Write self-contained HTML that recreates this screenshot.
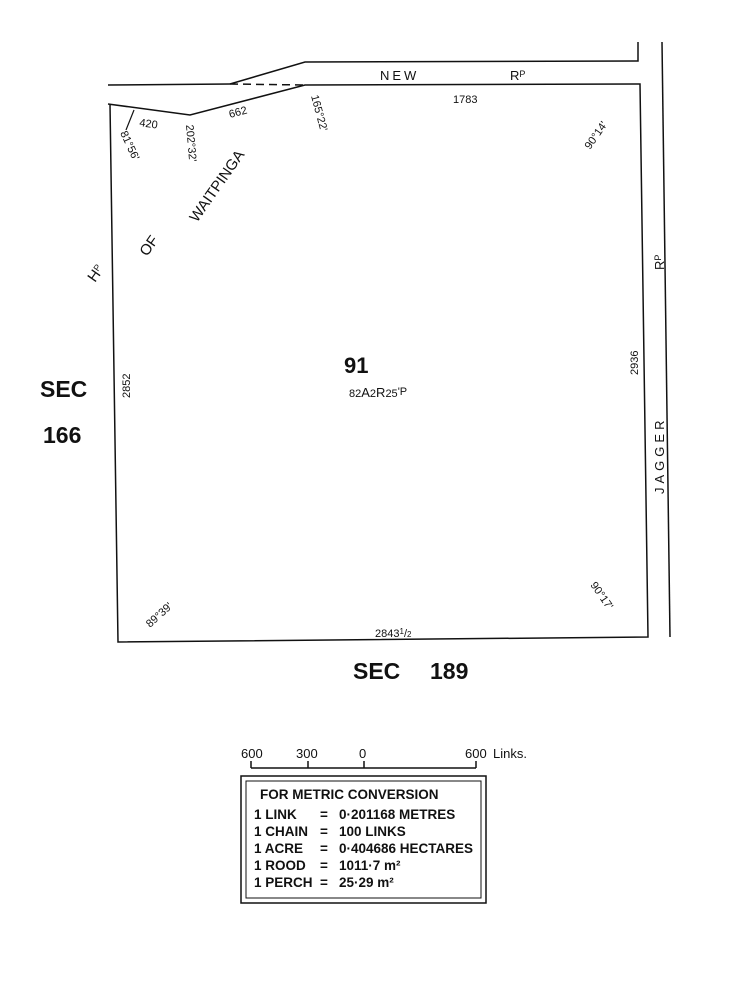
<!DOCTYPE html>
<html><head><meta charset="utf-8"><style>
html,body{margin:0;padding:0;background:#fff;}
svg{display:block}
text{font-family:"Liberation Sans",sans-serif;fill:#111}
.s{font-size:11px}
.b{font-weight:bold}
</style></head><body>
<svg width="750" height="1008" viewBox="0 0 750 1008" xmlns="http://www.w3.org/2000/svg">
<g stroke="#111" stroke-width="1.5" fill="none">
<polyline points="108,104 190,115 305,85 640,84 648,637 118,642 110,104"/>
<line x1="108" y1="85" x2="230" y2="84"/>
<line x1="230" y1="84" x2="305" y2="85" stroke-dasharray="8,5"/>
<polyline points="230,84 305,62 638,61 638,42"/>
<line x1="662" y1="42" x2="670" y2="637"/>
<line x1="134" y1="110" x2="126" y2="130" stroke-width="1.2"/>
</g>
<text x="380" y="80" font-size="13" letter-spacing="3">NEW</text>
<text x="510" y="80" font-size="13">R<tspan font-size="9" dy="-3">P</tspan></text>
<text x="453" y="103" class="s">1783</text>
<text x="139" y="126" class="s" transform="rotate(8 139 126)">420</text>
<text x="230" y="118" class="s" transform="rotate(-15 230 118)">662</text>
<g class="s">
<text transform="translate(120,133) rotate(65)">81°56'</text>
<text transform="translate(186,125) rotate(85)">202°32'</text>
<text transform="translate(311,96) rotate(75)">165°22'</text>
<text transform="translate(590,150) rotate(-55)">90°14'</text>
<text transform="translate(590,585) rotate(55)">90°17'</text>
<text transform="translate(150,628) rotate(-42)">89°39'</text>
<text transform="translate(130,398) rotate(-90)">2852</text>
<text transform="translate(638,375) rotate(-90)">2936</text>
<text x="375" y="637">2843<tspan font-size="8" dy="-3">1</tspan><tspan dy="3">/</tspan><tspan font-size="8">2</tspan></text>
</g>
<text transform="translate(664,494) rotate(-90)" font-size="13" letter-spacing="4">JAGGER</text>
<text transform="translate(664,270) rotate(-90)" font-size="13">R<tspan font-size="9" dy="-3">P</tspan></text>
<text transform="translate(95,283) rotate(-55)" font-size="15">H<tspan font-size="9" dy="-4">P</tspan></text>
<text transform="translate(147,257) rotate(-55)" font-size="15">OF</text>
<text transform="translate(197,223) rotate(-55)" font-size="15">WAITPINGA</text>
<text x="344" y="373" font-size="22" class="b">91</text>
<text x="349" y="397" font-size="11">82<tspan font-size="13">A</tspan>2<tspan font-size="13">R</tspan>25<tspan font-size="11" dy="-2">'P</tspan></text>
<text x="40" y="397" font-size="23" class="b">SEC</text>
<text x="43" y="443" font-size="23" class="b">166</text>
<text x="353" y="679" font-size="23" class="b">SEC</text>
<text x="430" y="679" font-size="23" class="b">189</text>
<g stroke="#111" stroke-width="1.5">
<line x1="251" y1="768" x2="476" y2="768"/>
<line x1="251" y1="761" x2="251" y2="768"/>
<line x1="308" y1="761" x2="308" y2="768"/>
<line x1="364" y1="761" x2="364" y2="768"/>
<line x1="476" y1="761" x2="476" y2="768"/>
</g>
<g font-size="13">
<text x="241" y="758">600</text><text x="296" y="758">300</text><text x="359" y="758">0</text><text x="465" y="758">600</text>
<text x="493" y="758">Links.</text>
</g>
<rect x="241" y="776" width="245" height="127" fill="none" stroke="#111" stroke-width="1.5"/>
<rect x="246" y="781" width="235" height="117" fill="none" stroke="#111" stroke-width="1"/>
<g font-size="13.5" class="b">
<text x="260" y="799">FOR METRIC CONVERSION</text>
<text x="254" y="819">1 LINK</text><text x="320" y="819">=</text><text x="339" y="819">0·201168 METRES</text>
<text x="254" y="836">1 CHAIN</text><text x="320" y="836">=</text><text x="339" y="836">100 LINKS</text>
<text x="254" y="853">1 ACRE</text><text x="320" y="853">=</text><text x="339" y="853">0·404686 HECTARES</text>
<text x="254" y="870">1 ROOD</text><text x="320" y="870">=</text><text x="339" y="870">1011·7 m²</text>
<text x="254" y="887">1 PERCH</text><text x="320" y="887">=</text><text x="339" y="887">25·29 m²</text>
</g>
</svg>
</body></html>
